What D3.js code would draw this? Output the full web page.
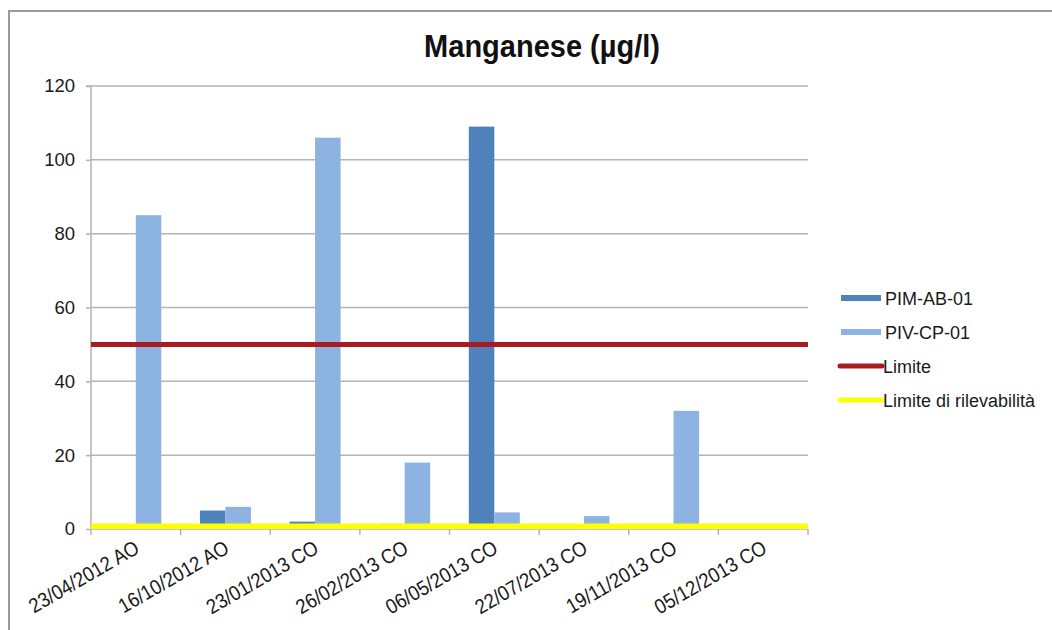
<!DOCTYPE html>
<html><head><meta charset="utf-8">
<script src="https://cdn.jsdelivr.net/npm/d3@7"></script>
<style>
html,body{margin:0;padding:0;background:#fff;}
svg{display:block;font-family:"Liberation Sans",Arial,sans-serif;}
</style></head>
<body><svg id="c" width="1052" height="630"></svg>
<script>
const categories = ["23/04/2012 AO","16/10/2012 AO","23/01/2013 CO","26/02/2013 CO","06/05/2013 CO","22/07/2013 CO","19/11/2013 CO","05/12/2013 CO"];
const seriesNames = ["PIM-AB-01","PIV-CP-01"];
const pimValues = [null, 5, 2, 1.4, 109, null, null, null];
const pivValues = [85, 6, 106, 18, 4.5, 3.5, 32, null];
const limite = 50;
const limiteRilevabilita = 1;
const yTicks = [0,20,40,60,80,100,120];
const title = "Manganese (µg/l)";
const legendLabels = ["PIM-AB-01","PIV-CP-01","Limite","Limite di rilevabilità"];

const colors = {"PIM-AB-01":"#4f81bd","PIV-CP-01":"#8db3e2"};
const svg = d3.select("#c");
const L = 91, R = 808, T = 86, B = 529;

// frame
svg.append("path").attr("d",`M9,630 L9,11 L1052,11`).attr("fill","none").attr("stroke","#9a9a9a").attr("stroke-width",2);

const x = d3.scaleBand().domain(categories).range([L,R]).padding(0);
const xi = d3.scaleBand().domain(seriesNames).range([0,x.bandwidth()]).paddingInner(0).paddingOuter(0.757);
const y = d3.scaleLinear().domain([0,120]).range([B,T]);

// gridlines
svg.append("g").selectAll("line").data(yTicks.filter(d=>d>0)).join("line")
  .attr("x1",L).attr("x2",R).attr("y1",d=>y(d)).attr("y2",d=>y(d))
  .attr("stroke","#b4b4b4").attr("stroke-width",1.5);

// y axis
const yAxis = d3.axisLeft(y).tickValues(yTicks).tickSize(5).tickPadding(11);
const gy = svg.append("g").attr("transform",`translate(${L},0)`).call(yAxis);
gy.select(".domain").attr("stroke","#b4b4b4").attr("stroke-width",1.5).attr("d",`M-5,${T}H0V${B}`);
gy.selectAll(".tick line").attr("stroke","#b4b4b4").attr("stroke-width",1.5);
gy.selectAll(".tick text").attr("font-size",18.5).attr("fill","#1a1a1a").attr("font-family","Liberation Sans, Arial, sans-serif");

// x axis ticks
const bounds = categories.map(c=>x(c)).concat([R]);
svg.append("g").selectAll("line").data(bounds).join("line")
  .attr("x1",d=>d).attr("x2",d=>d).attr("y1",B).attr("y2",B+6)
  .attr("stroke","#b4b4b4").attr("stroke-width",1.5);
svg.append("line").attr("x1",L).attr("x2",R).attr("y1",B).attr("y2",B).attr("stroke","#b4b4b4").attr("stroke-width",1.5);

// bars
const rows = categories.map((c,i)=>({c, vals:[{s:seriesNames[0],v:pimValues[i]},{s:seriesNames[1],v:pivValues[i]}]}));
const g = svg.append("g");
rows.forEach(r=>{
  r.vals.forEach(d=>{
    if(d.v==null) return;
    g.append("rect").attr("x",x(r.c)+xi(d.s)).attr("width",xi.bandwidth())
      .attr("y",y(d.v)).attr("height",y(0)-y(d.v)).attr("fill",colors[d.s]);
  });
});

// limit lines
svg.append("line").attr("x1",L).attr("x2",R).attr("y1",y(limite)).attr("y2",y(limite))
  .attr("stroke","#a81c20").attr("stroke-width",5);
svg.append("line").attr("x1",L).attr("x2",R).attr("y1",y(limiteRilevabilita)+1).attr("y2",y(limiteRilevabilita)+1)
  .attr("stroke","#ffff00").attr("stroke-width",5.5);

// x labels
svg.append("g").selectAll("text").data(categories).join("text")
  .attr("transform",d=>`translate(${x(d)+x.bandwidth()/2+5},${B+23}) rotate(-30) scale(1,1.12)`)
  .attr("text-anchor","end").attr("font-size",18.5).attr("fill","#1a1a1a").text(d=>d);

// title
svg.append("text").attr("transform","translate(542,57) scale(1,1.08)").attr("text-anchor","middle")
  .attr("font-size",29).attr("font-weight","bold").attr("fill","#111").text(title);

// legend
const ly = [298,332,366,400];
const lg = svg.append("g");
legendLabels.forEach((lab,i)=>{
  if(i<2){
    lg.append("rect").attr("x",841).attr("y",ly[i]-3).attr("width",40).attr("height",6).attr("fill",colors[lab]);
  } else {
    lg.append("line").attr("x1",840).attr("x2",882).attr("y1",ly[i]).attr("y2",ly[i])
      .attr("stroke",i==2?"#a81c20":"#ffff00").attr("stroke-width",5).attr("stroke-linecap","round");
  }
  lg.append("text").attr("x",i<2?885:883).attr("y",ly[i]+6.5).attr("font-size",18).attr("fill","#1a1a1a").text(lab);
});
</script></body></html>
